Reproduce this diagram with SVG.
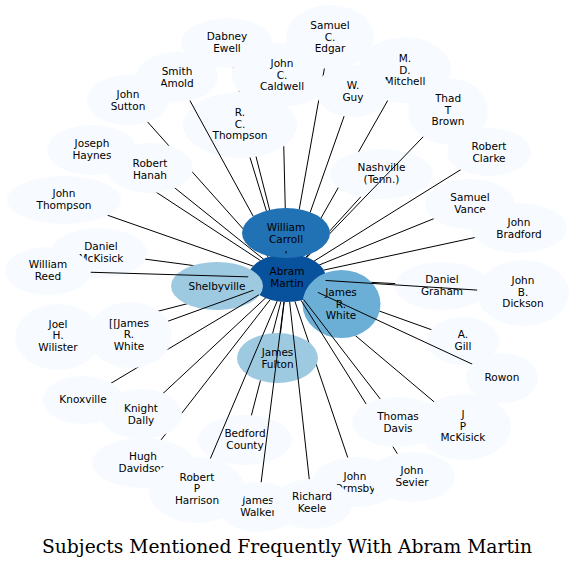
<svg xmlns="http://www.w3.org/2000/svg" xmlns:xlink="http://www.w3.org/1999/xlink" width="575" height="568" viewBox="0 0 575 568">
<style>
.lt{fill:#f7fbff}
text{font-family:"DejaVu Sans","Liberation Sans",sans-serif;font-size:10.5px;text-anchor:middle;fill:#000}
text.title{font-family:"DejaVu Serif","Liberation Serif",serif;font-size:18px}
#connectors line{stroke:#000;stroke-width:1;fill:none}
</style>
<defs>
<ellipse id="e-am" cx="287" cy="278" rx="39" ry="24"/>
<ellipse id="e-wc" cx="286" cy="233" rx="44" ry="25"/>
<ellipse id="e-jw" cx="341.5" cy="304" rx="39" ry="34"/>
<ellipse id="e-sv" cx="217" cy="286" rx="46" ry="24"/>
<ellipse id="e-jf" cx="277.5" cy="358" rx="40.5" ry="25"/>
<ellipse id="e-de" cx="227" cy="43" rx="46" ry="25"/>
<ellipse id="e-se" cx="330" cy="37" rx="44" ry="32"/>
<ellipse id="e-jc" cx="282" cy="75" rx="50" ry="32"/>
<ellipse id="e-wg" cx="353" cy="91" rx="37" ry="26"/>
<ellipse id="e-sa" cx="177" cy="77" rx="41" ry="25"/>
<ellipse id="e-js" cx="128" cy="100" rx="41" ry="25"/>
<ellipse id="e-rt" cx="240" cy="125" rx="57" ry="33"/>
<ellipse id="e-mm" cx="405" cy="70" rx="46" ry="33"/>
<ellipse id="e-tb" cx="448" cy="111" rx="40" ry="33"/>
<ellipse id="e-na" cx="381.5" cy="174" rx="51.5" ry="25"/>
<ellipse id="e-rc" cx="489" cy="152" rx="42" ry="24"/>
<ellipse id="e-jh" cx="92" cy="150" rx="45" ry="25"/>
<ellipse id="e-rh" cx="150" cy="168" rx="43" ry="25"/>
<ellipse id="e-jt" cx="64" cy="200" rx="57" ry="24"/>
<ellipse id="e-vn" cx="470" cy="204" rx="45" ry="25"/>
<ellipse id="e-jb" cx="519" cy="228" rx="48" ry="25"/>
<ellipse id="e-dm" cx="99" cy="253" rx="48" ry="25"/>
<ellipse id="e-wr" cx="48" cy="271" rx="43" ry="24"/>
<ellipse id="e-dg" cx="442" cy="286" rx="47" ry="24"/>
<ellipse id="e-dk" cx="523" cy="293" rx="46" ry="33"/>
<ellipse id="e-jo" cx="58" cy="337" rx="43" ry="33"/>
<ellipse id="e-jx" cx="130" cy="335" rx="42" ry="33"/>
<ellipse id="e-ag" cx="463" cy="341" rx="36" ry="24"/>
<ellipse id="e-ro" cx="502" cy="378" rx="36" ry="25"/>
<ellipse id="e-kx" cx="83" cy="400" rx="40" ry="24"/>
<ellipse id="e-kd" cx="141" cy="414" rx="41" ry="25"/>
<ellipse id="e-td" cx="398" cy="422" rx="46" ry="25"/>
<ellipse id="e-jp" cx="464" cy="427" rx="47" ry="33"/>
<ellipse id="e-hd" cx="143" cy="463" rx="51" ry="25"/>
<ellipse id="e-bc" cx="245" cy="440" rx="47" ry="25"/>
<ellipse id="e-ph" cx="197" cy="490" rx="48" ry="33"/>
<ellipse id="e-sr" cx="412" cy="477" rx="43" ry="25"/>
<ellipse id="e-or" cx="356" cy="482" rx="44" ry="25"/>
<ellipse id="e-wk" cx="258" cy="507" rx="40" ry="25"/>
<ellipse id="e-rk" cx="312" cy="504" rx="40" ry="25"/>
<rect id="bg" width="575" height="568" fill="#fff"/>
<mask id="m-se" maskUnits="userSpaceOnUse" x="0" y="0" width="575" height="568"><use href="#bg"/><use href="#e-am"/><use href="#e-wc"/><use href="#e-wg"/><use href="#e-se"/></mask>
<mask id="m-jc" maskUnits="userSpaceOnUse" x="0" y="0" width="575" height="568"><use href="#bg"/><use href="#e-am"/><use href="#e-wc"/><use href="#e-rt"/><use href="#e-jc"/></mask>
<mask id="m-wg" maskUnits="userSpaceOnUse" x="0" y="0" width="575" height="568"><use href="#bg"/><use href="#e-am"/><use href="#e-wc"/><use href="#e-wg"/></mask>
<mask id="m-de" maskUnits="userSpaceOnUse" x="0" y="0" width="575" height="568"><use href="#bg"/><use href="#e-am"/><use href="#e-wc"/><use href="#e-jc"/><use href="#e-rt"/><use href="#e-de"/></mask>
<mask id="m-rt" maskUnits="userSpaceOnUse" x="0" y="0" width="575" height="568"><use href="#bg"/><use href="#e-am"/><use href="#e-wc"/><use href="#e-rt"/></mask>
<mask id="m-sa" maskUnits="userSpaceOnUse" x="0" y="0" width="575" height="568"><use href="#bg"/><use href="#e-am"/><use href="#e-wc"/><use href="#e-sa"/></mask>
<mask id="m-js" maskUnits="userSpaceOnUse" x="0" y="0" width="575" height="568"><use href="#bg"/><use href="#e-am"/><use href="#e-wc"/><use href="#e-rh"/><use href="#e-js"/></mask>
<mask id="m-jh" maskUnits="userSpaceOnUse" x="0" y="0" width="575" height="568"><use href="#bg"/><use href="#e-am"/><use href="#e-rh"/><use href="#e-jh"/></mask>
<mask id="m-rh" maskUnits="userSpaceOnUse" x="0" y="0" width="575" height="568"><use href="#bg"/><use href="#e-am"/><use href="#e-wc"/><use href="#e-rh"/></mask>
<mask id="m-jt" maskUnits="userSpaceOnUse" x="0" y="0" width="575" height="568"><use href="#bg"/><use href="#e-am"/><use href="#e-jt"/></mask>
<mask id="m-mm" maskUnits="userSpaceOnUse" x="0" y="0" width="575" height="568"><use href="#bg"/><use href="#e-am"/><use href="#e-wc"/><use href="#e-na"/><use href="#e-mm"/></mask>
<mask id="m-na" maskUnits="userSpaceOnUse" x="0" y="0" width="575" height="568"><use href="#bg"/><use href="#e-am"/><use href="#e-wc"/><use href="#e-na"/></mask>
<mask id="m-tb" maskUnits="userSpaceOnUse" x="0" y="0" width="575" height="568"><use href="#bg"/><use href="#e-am"/><use href="#e-wc"/><use href="#e-tb"/></mask>
<mask id="m-rc" maskUnits="userSpaceOnUse" x="0" y="0" width="575" height="568"><use href="#bg"/><use href="#e-am"/><use href="#e-rc"/></mask>
<mask id="m-vn" maskUnits="userSpaceOnUse" x="0" y="0" width="575" height="568"><use href="#bg"/><use href="#e-am"/><use href="#e-vn"/></mask>
<mask id="m-jb" maskUnits="userSpaceOnUse" x="0" y="0" width="575" height="568"><use href="#bg"/><use href="#e-am"/><use href="#e-jb"/></mask>
<mask id="m-jo" maskUnits="userSpaceOnUse" x="0" y="0" width="575" height="568"><use href="#bg"/><use href="#e-am"/><use href="#e-sv"/><use href="#e-jx"/><use href="#e-jo"/></mask>
<mask id="m-dm" maskUnits="userSpaceOnUse" x="0" y="0" width="575" height="568"><use href="#bg"/><use href="#e-am"/><use href="#e-sv"/><use href="#e-dm"/></mask>
<mask id="m-sv" maskUnits="userSpaceOnUse" x="0" y="0" width="575" height="568"><use href="#bg"/><use href="#e-am"/><use href="#e-sv"/></mask>
<mask id="m-wr" maskUnits="userSpaceOnUse" x="0" y="0" width="575" height="568"><use href="#bg"/><use href="#e-am"/><use href="#e-wr"/></mask>
<mask id="m-kx" maskUnits="userSpaceOnUse" x="0" y="0" width="575" height="568"><use href="#bg"/><use href="#e-am"/><use href="#e-jx"/><use href="#e-kx"/></mask>
<mask id="m-jx" maskUnits="userSpaceOnUse" x="0" y="0" width="575" height="568"><use href="#bg"/><use href="#e-am"/><use href="#e-jx"/></mask>
<mask id="m-ag" maskUnits="userSpaceOnUse" x="0" y="0" width="575" height="568"><use href="#bg"/><use href="#e-am"/><use href="#e-jw"/><use href="#e-ag"/></mask>
<mask id="m-jp" maskUnits="userSpaceOnUse" x="0" y="0" width="575" height="568"><use href="#bg"/><use href="#e-am"/><use href="#e-jw"/><use href="#e-jp"/></mask>
<mask id="m-dg" maskUnits="userSpaceOnUse" x="0" y="0" width="575" height="568"><use href="#bg"/><use href="#e-am"/><use href="#e-jw"/><use href="#e-dg"/></mask>
<mask id="m-jw" maskUnits="userSpaceOnUse" x="0" y="0" width="575" height="568"><use href="#bg"/><use href="#e-am"/><use href="#e-jw"/></mask>
<mask id="m-ro" maskUnits="userSpaceOnUse" x="0" y="0" width="575" height="568"><use href="#bg"/><use href="#e-am"/><use href="#e-ro"/></mask>
<mask id="m-dk" maskUnits="userSpaceOnUse" x="0" y="0" width="575" height="568"><use href="#bg"/><use href="#e-am"/><use href="#e-dk"/></mask>
<mask id="m-or" maskUnits="userSpaceOnUse" x="0" y="0" width="575" height="568"><use href="#bg"/><use href="#e-am"/><use href="#e-jf"/><use href="#e-or"/></mask>
<mask id="m-sr" maskUnits="userSpaceOnUse" x="0" y="0" width="575" height="568"><use href="#bg"/><use href="#e-am"/><use href="#e-td"/><use href="#e-sr"/></mask>
<mask id="m-td" maskUnits="userSpaceOnUse" x="0" y="0" width="575" height="568"><use href="#bg"/><use href="#e-am"/><use href="#e-td"/></mask>
<mask id="m-bc" maskUnits="userSpaceOnUse" x="0" y="0" width="575" height="568"><use href="#bg"/><use href="#e-am"/><use href="#e-jf"/><use href="#e-bc"/></mask>
<mask id="m-jf" maskUnits="userSpaceOnUse" x="0" y="0" width="575" height="568"><use href="#bg"/><use href="#e-am"/><use href="#e-jf"/></mask>
<mask id="m-wk" maskUnits="userSpaceOnUse" x="0" y="0" width="575" height="568"><use href="#bg"/><use href="#e-am"/><use href="#e-wk"/></mask>
<mask id="m-rk" maskUnits="userSpaceOnUse" x="0" y="0" width="575" height="568"><use href="#bg"/><use href="#e-am"/><use href="#e-rk"/></mask>
<mask id="m-hd" maskUnits="userSpaceOnUse" x="0" y="0" width="575" height="568"><use href="#bg"/><use href="#e-am"/><use href="#e-kd"/><use href="#e-hd"/></mask>
<mask id="m-kd" maskUnits="userSpaceOnUse" x="0" y="0" width="575" height="568"><use href="#bg"/><use href="#e-am"/><use href="#e-kd"/></mask>
<mask id="m-ph" maskUnits="userSpaceOnUse" x="0" y="0" width="575" height="568"><use href="#bg"/><use href="#e-am"/><use href="#e-ph"/></mask>
</defs>
<rect width="575" height="568" fill="#fff"/>
<g id="nodes">
<g id="n-am"><use href="#e-am" fill="#08519c"/><text x="287" y="274.9">Abram</text><text x="287" y="286.6">Martin</text></g>
<g id="n-wc"><use href="#e-wc" fill="#2171b5"/><text x="286" y="230.9">William</text><text x="286" y="242.6">Carroll</text></g>
<g id="n-sv"><use href="#e-sv" fill="#9ecae1"/><text x="217" y="289.7">Shelbyville</text></g>
<g id="n-jw"><use href="#e-jw" fill="#6baed6"/><text x="341" y="296">James</text><text x="341" y="307.7">R.</text><text x="341" y="319.4">White</text></g>
<g id="n-jf"><use href="#e-jf" fill="#9ecae1"/><text x="277.5" y="355.9">James</text><text x="277.5" y="367.6">Fulton</text></g>
<g id="n-se"><use href="#e-se" class="lt"/><text x="330" y="29">Samuel</text><text x="330" y="40.7">C.</text><text x="330" y="52.4">Edgar</text></g>
<g id="n-jc"><use href="#e-jc" class="lt"/><text x="282" y="67">John</text><text x="282" y="78.7">C.</text><text x="282" y="90.4">Caldwell</text></g>
<g id="n-de"><use href="#e-de" class="lt"/><text x="227" y="39.9">Dabney</text><text x="227" y="51.6">Ewell</text></g>
<g id="n-rt"><use href="#e-rt" class="lt"/><text x="240" y="116">R.</text><text x="240" y="127.7">C.</text><text x="240" y="139.4">Thompson</text></g>
<g id="n-sa"><use href="#e-sa" class="lt"/><text x="177" y="74.9">Smith</text><text x="177" y="86.6">Amold</text></g>
<g id="n-js"><use href="#e-js" class="lt"/><text x="128" y="97.9">John</text><text x="128" y="109.6">Sutton</text></g>
<g id="n-jh"><use href="#e-jh" class="lt"/><text x="92" y="146.9">Joseph</text><text x="92" y="158.6">Haynes</text></g>
<g id="n-rh"><use href="#e-rh" class="lt"/><text x="150" y="166.9">Robert</text><text x="150" y="178.6">Hanah</text></g>
<g id="n-jt"><use href="#e-jt" class="lt"/><text x="64" y="197.4">John</text><text x="64" y="209.1">Thompson</text></g>
<g id="n-tb"><use href="#e-tb" class="lt"/><text x="448" y="102">Thad</text><text x="448" y="113.7">T</text><text x="448" y="125.4">Brown</text></g>
<g id="n-mm"><use href="#e-mm" class="lt"/><text x="405" y="62">M.</text><text x="405" y="73.7">D.</text><text x="405" y="85.4">Mitchell</text></g>
<g id="n-wg"><use href="#e-wg" class="lt"/><text x="353" y="88.9">W.</text><text x="353" y="100.6">Guy</text></g>
<g id="n-na"><use href="#e-na" class="lt"/><text x="381.5" y="170.9">Nashville</text><text x="381.5" y="182.6">(Tenn.)</text></g>
<g id="n-rc"><use href="#e-rc" class="lt"/><text x="489" y="149.9">Robert</text><text x="489" y="161.6">Clarke</text></g>
<g id="n-vn"><use href="#e-vn" class="lt"/><text x="470" y="200.9">Samuel</text><text x="470" y="212.6">Vance</text></g>
<g id="n-jb"><use href="#e-jb" class="lt"/><text x="519" y="225.9">John</text><text x="519" y="237.6">Bradford</text></g>
<g id="n-dm"><use href="#e-dm" class="lt"/><text x="101" y="249.9">Daniel</text><text x="101" y="261.6">McKisick</text></g>
<g id="n-wr"><use href="#e-wr" class="lt"/><text x="48" y="267.9">William</text><text x="48" y="279.6">Reed</text></g>
<g id="n-dg"><use href="#e-dg" class="lt"/><text x="442" y="282.9">Daniel</text><text x="442" y="294.6">Graham</text></g>
<g id="n-dk"><use href="#e-dk" class="lt"/><text x="523" y="284">John</text><text x="523" y="295.7">B.</text><text x="523" y="307.4">Dickson</text></g>
<g id="n-jo"><use href="#e-jo" class="lt"/><text x="58" y="327.5">Joel</text><text x="58" y="339.2">H.</text><text x="58" y="350.9">Wilister</text></g>
<g id="n-jx"><use href="#e-jx" class="lt"/><text x="129" y="326.7">[[James</text><text x="129" y="338.4">R.</text><text x="129" y="350.1">White</text></g>
<g id="n-ag"><use href="#e-ag" class="lt"/><text x="463" y="337.9">A.</text><text x="463" y="349.6">Gill</text></g>
<g id="n-ro"><use href="#e-ro" class="lt"/><text x="502" y="380.7">Rowon</text></g>
<g id="n-kd"><use href="#e-kd" class="lt"/><text x="141" y="411.9">Knight</text><text x="141" y="423.6">Dally</text></g>
<g id="n-kx"><use href="#e-kx" class="lt"/><text x="83" y="402.7">Knoxville</text></g>
<g id="n-td"><use href="#e-td" class="lt"/><text x="398" y="419.9">Thomas</text><text x="398" y="431.6">Davis</text></g>
<g id="n-jp"><use href="#e-jp" class="lt"/><text x="463" y="418">J</text><text x="463" y="429.7">P</text><text x="463" y="441.4">McKisick</text></g>
<g id="n-hd"><use href="#e-hd" class="lt"/><text x="143" y="459.9">Hugh</text><text x="143" y="471.6">Davidson</text></g>
<g id="n-bc"><use href="#e-bc" class="lt"/><text x="245" y="436.9">Bedford</text><text x="245" y="448.6">County</text></g>
<g id="n-or"><use href="#e-or" class="lt"/><text x="355" y="479.9">John</text><text x="355" y="491.6">Ormsby</text></g>
<g id="n-sr"><use href="#e-sr" class="lt"/><text x="412" y="473.9">John</text><text x="412" y="485.6">Sevier</text></g>
<g id="n-wk"><use href="#e-wk" class="lt"/><text x="258" y="503.9">James</text><text x="258" y="515.6">Walker</text></g>
<g id="n-ph"><use href="#e-ph" class="lt"/><text x="197" y="480.5">Robert</text><text x="197" y="492.2">P</text><text x="197" y="503.9">Harrison</text></g>
<g id="n-rk"><use href="#e-rk" class="lt"/><text x="312" y="499.9">Richard</text><text x="312" y="511.6">Keele</text></g>
</g>
<g id="connectors">
<line x1="287" y1="278" x2="330" y2="37" mask="url(#m-se)"/>
<line x1="287" y1="278" x2="282" y2="75" mask="url(#m-jc)"/>
<line x1="287" y1="278" x2="353" y2="91" mask="url(#m-wg)"/>
<line x1="287" y1="278" x2="227" y2="43" mask="url(#m-de)"/>
<line x1="287" y1="278" x2="240" y2="125" mask="url(#m-rt)"/>
<line x1="287" y1="278" x2="177" y2="77" mask="url(#m-sa)"/>
<line x1="287" y1="278" x2="128" y2="100" mask="url(#m-js)"/>
<line x1="287" y1="278" x2="92" y2="150" mask="url(#m-jh)"/>
<line x1="287" y1="278" x2="150" y2="168" mask="url(#m-rh)"/>
<line x1="287" y1="278" x2="64" y2="200" mask="url(#m-jt)"/>
<line x1="287" y1="278" x2="405" y2="70" mask="url(#m-mm)"/>
<line x1="287" y1="278" x2="381.5" y2="174" mask="url(#m-na)"/>
<line x1="287" y1="278" x2="448" y2="111" mask="url(#m-tb)"/>
<line x1="287" y1="278" x2="489" y2="152" mask="url(#m-rc)"/>
<line x1="287" y1="278" x2="470" y2="204" mask="url(#m-vn)"/>
<line x1="287" y1="278" x2="519" y2="228" mask="url(#m-jb)"/>
<line x1="287" y1="278" x2="58" y2="337" mask="url(#m-jo)"/>
<line x1="287" y1="278" x2="99" y2="253" mask="url(#m-dm)"/>
<line x1="287" y1="278" x2="217" y2="286" mask="url(#m-sv)"/>
<line x1="287" y1="278" x2="48" y2="271" mask="url(#m-wr)"/>
<line x1="287" y1="278" x2="83" y2="400" mask="url(#m-kx)"/>
<line x1="287" y1="278" x2="130" y2="335" mask="url(#m-jx)"/>
<line x1="287" y1="278" x2="463" y2="341" mask="url(#m-ag)"/>
<line x1="287" y1="278" x2="464" y2="427" mask="url(#m-jp)"/>
<line x1="287" y1="278" x2="442" y2="286" mask="url(#m-dg)"/>
<line x1="287" y1="278" x2="341.5" y2="304" mask="url(#m-jw)"/>
<line x1="287" y1="278" x2="502" y2="378" mask="url(#m-ro)"/>
<line x1="287" y1="278" x2="523" y2="293" mask="url(#m-dk)"/>
<line x1="287" y1="278" x2="356" y2="482" mask="url(#m-or)"/>
<line x1="287" y1="278" x2="412" y2="477" mask="url(#m-sr)"/>
<line x1="287" y1="278" x2="398" y2="422" mask="url(#m-td)"/>
<line x1="287" y1="278" x2="245" y2="440" mask="url(#m-bc)"/>
<line x1="287" y1="278" x2="277.5" y2="358" mask="url(#m-jf)"/>
<line x1="287" y1="278" x2="258" y2="507" mask="url(#m-wk)"/>
<line x1="287" y1="278" x2="312" y2="504" mask="url(#m-rk)"/>
<line x1="287" y1="278" x2="143" y2="463" mask="url(#m-hd)"/>
<line x1="287" y1="278" x2="141" y2="414" mask="url(#m-kd)"/>
<line x1="287" y1="278" x2="197" y2="490" mask="url(#m-ph)"/>
<line x1="286" y1="251" x2="286" y2="253.5"/>
</g>
<text class="title" x="287" y="553" textLength="490" lengthAdjust="spacingAndGlyphs">Subjects Mentioned Frequently With Abram Martin</text>
</svg>
